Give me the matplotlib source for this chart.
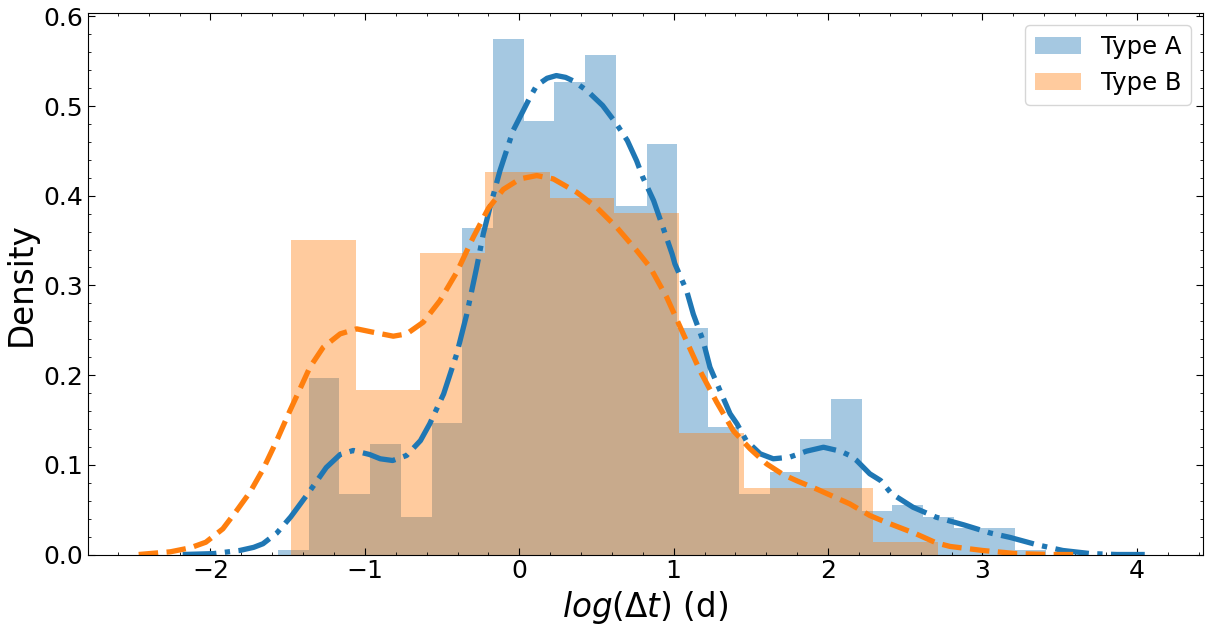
import numpy as np
import matplotlib
matplotlib.use("Agg")
import matplotlib.pyplot as plt
from matplotlib.ticker import AutoMinorLocator

# ── Data ──────────────────────────────────────────────────────
# Type A histogram (density), 25 bins of equal width
a_start, a_width = -1.563, 0.199
a_heights = [0.005, 0.197, 0.067, 0.123, 0.042, 0.147, 0.364, 0.575, 0.483,
             0.527, 0.557, 0.389, 0.458, 0.253, 0.142, 0.068, 0.092, 0.129,
             0.173, 0.048, 0.055, 0.042, 0.030, 0.030, 0.0045]

# Type B histogram (density), 10 bins of equal width
b_start, b_width = -1.479, 0.419
b_heights = [0.351, 0.183, 0.336, 0.427, 0.397, 0.381, 0.136, 0.0744,
             0.0744, 0.0134]

# KDE curves (x, density)
a_kde_x = [-2.18, -1.98, -1.81, -1.72, -1.66, -1.57, -1.48, -1.42, -1.36,
           -1.25, -1.16, -1.075, -0.97, -0.90, -0.82, -0.73, -0.64, -0.58,
           -0.49, -0.405, -0.34, -0.276, -0.233, -0.19, -0.125, -0.04, 0.026,
           0.07, 0.113, 0.18, 0.24, 0.30, 0.35, 0.44, 0.54, 0.63, 0.70, 0.76,
           0.80, 0.87, 0.93, 0.99, 1.008, 1.084, 1.127, 1.19, 1.235, 1.30,
           1.365, 1.41, 1.47, 1.56, 1.645, 1.75, 1.86, 1.97, 2.08, 2.14, 2.185,
           2.27, 2.34, 2.41, 2.55, 2.70, 2.88, 3.05, 3.18, 3.35, 3.52, 3.70,
           3.87, 4.10]
a_kde_y = [0.0, 0.001, 0.0045, 0.008, 0.012, 0.024, 0.042, 0.056, 0.070,
           0.097, 0.1115, 0.116, 0.1115, 0.1067, 0.1048, 0.1104, 0.127, 0.1457,
           0.179, 0.2237, 0.268, 0.320, 0.3575, 0.387, 0.428, 0.4727, 0.495,
           0.510, 0.523, 0.531, 0.534, 0.532, 0.528, 0.517, 0.5006, 0.480,
           0.4615, 0.439, 0.4206, 0.3946, 0.365, 0.335, 0.324, 0.294, 0.268,
           0.2386, 0.2088, 0.1828, 0.157, 0.1457, 0.127, 0.1123, 0.1067, 0.1085,
           0.1152, 0.1196, 0.1152, 0.1104, 0.1048, 0.090, 0.0825, 0.068, 0.0527,
           0.0416, 0.033, 0.024, 0.019, 0.011, 0.0045, 0.001, 0.0, 0.0]

b_kde_x = [-2.465, -2.26, -2.13, -2.03, -1.92, -1.83, -1.744, -1.658, -1.571,
           -1.485, -1.42, -1.356, -1.27, -1.16, -1.053, -0.946, -0.816, -0.729,
           -0.622, -0.514, -0.405, -0.298, -0.20, -0.104, 0.005, 0.113, 0.22,
           0.372, 0.50, 0.63, 0.76, 0.847, 0.955, 1.062, 1.17, 1.278, 1.386,
           1.494, 1.602, 1.71, 1.80, 1.926, 2.14, 2.27, 2.36, 2.57, 2.70, 2.79,
           3.00, 3.22, 3.45, 3.64]
b_kde_y = [0.0, 0.003, 0.0075, 0.0137, 0.0286, 0.049, 0.0695, 0.0955, 0.127,
           0.1605, 0.1847, 0.2088, 0.231, 0.246, 0.2516, 0.2478, 0.2434, 0.246,
           0.259, 0.283, 0.3147, 0.3537, 0.386, 0.407, 0.4188, 0.4225, 0.4188,
           0.4039, 0.3872, 0.365, 0.339, 0.3203, 0.2868, 0.246, 0.205, 0.17,
           0.138, 0.118, 0.101, 0.089, 0.082, 0.073, 0.0565, 0.0435, 0.037,
           0.023, 0.013, 0.009, 0.0045, 0.001, 0.0, 0.0]

# ── Plot ──────────────────────────────────────────────────────
fig = plt.figure(figsize=(12.11, 6.31), dpi=100)
ax = fig.add_axes([88 / 1211, 1 - 554.5 / 631, 1115 / 1211, 541.5 / 631])

a_edges = a_start + a_width * np.arange(len(a_heights))
b_edges = b_start + b_width * np.arange(len(b_heights))

ax.bar(a_edges, a_heights, width=a_width, align="edge", color="#1f77b4",
       alpha=0.4, linewidth=0, label="Type A")
ax.plot(a_kde_x, a_kde_y, color="#1f77b4", linestyle="-.", linewidth=3.8)
ax.bar(b_edges, b_heights, width=b_width, align="edge", color="#ff7f0e",
       alpha=0.4, linewidth=0, label="Type B")
ax.plot(b_kde_x, b_kde_y, color="#ff7f0e", linestyle="--", linewidth=3.8)

ax.set_xlabel(r"$log(\Delta t)$ (d)", fontsize=23.5)
ax.set_ylabel("Density", fontsize=23.5)

ax.xaxis.set_minor_locator(AutoMinorLocator(5))
ax.yaxis.set_minor_locator(AutoMinorLocator(5))
ax.tick_params(which="both", direction="in", top=True, right=True)
ax.tick_params(which="major", labelsize=18, length=5)
ax.tick_params(which="minor", length=2.5)

ax.legend(loc="upper right", fontsize=17.5, handlelength=1.9)

fig.savefig("out.png", dpi=100)
